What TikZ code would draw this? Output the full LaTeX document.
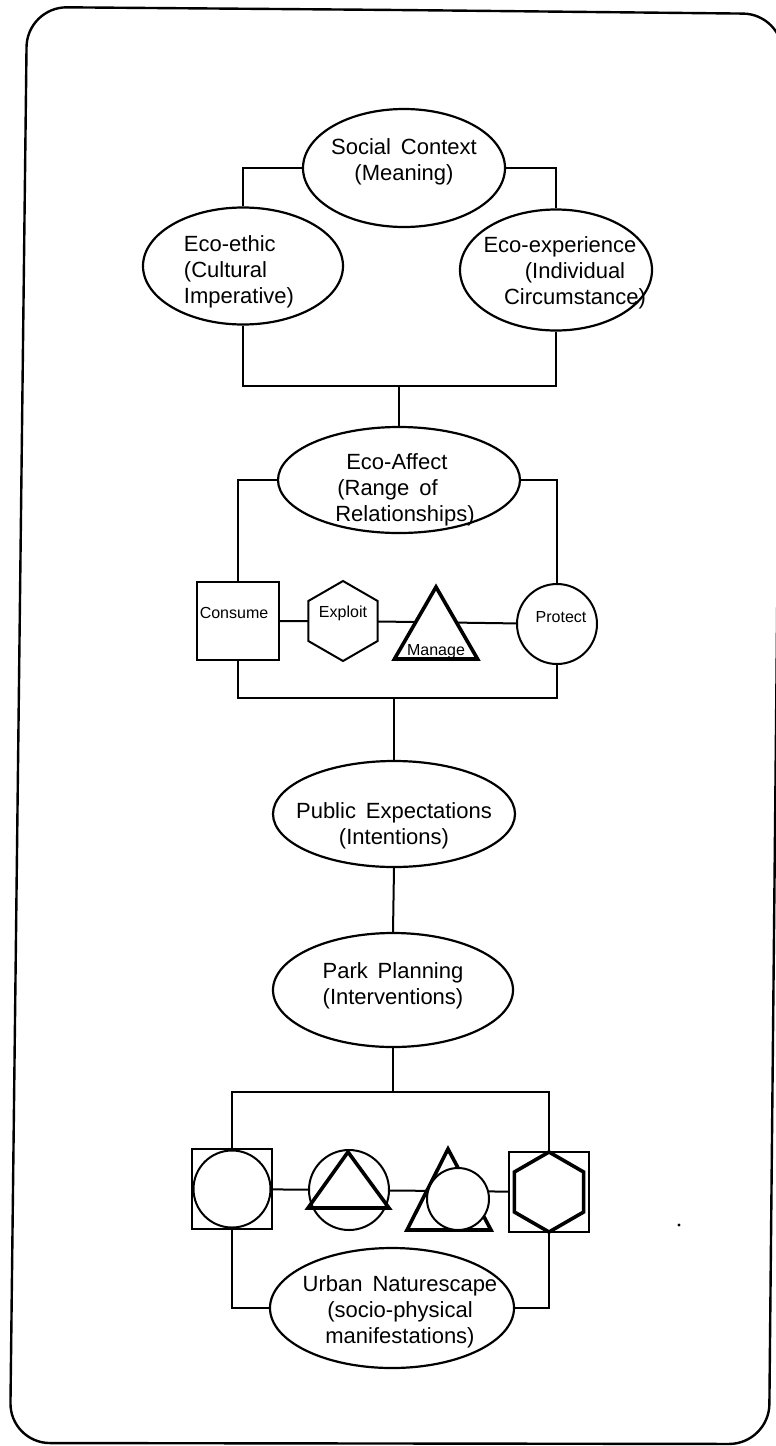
\documentclass[tikz,border=0pt]{standalone}
\usepackage{fontspec}
\setmainfont{Liberation Sans}
\usetikzlibrary{shapes.geometric,backgrounds}

\newcommand\wordgap{\spaceskip 0.45em plus 0.1em\relax}

\tikzset{
  eco/.style={draw, ellipse, line width=2.2pt, fill=white, inner sep=0pt},
  txt/.style={align=center, inner sep=0pt, font=\fontsize{22}{26}\selectfont\wordgap},
  small/.style={inner sep=0pt, font=\fontsize{16}{18}\selectfont},
  link/.style={line width=2pt},
  plain shape/.style={draw, line width=2pt, fill=white, inner sep=0pt},
  bold shape/.style={draw, line width=3.6pt, fill=white, inner sep=0pt},
  hexa/.style={regular polygon, regular polygon sides=6, shape border rotate=90},
}

\begin{document}
\begin{tikzpicture}[x=1pt, y=-1pt]
    \useasboundingbox (0,0) rectangle (776,1446);

    % Rounded frame
    \draw[line width=2.4pt, rounded corners=40pt] (400,10) -- (783,14) -- (769,1444) -- (10,1443) -- (27,7) -- cycle;

    % Context ellipses
    \node[eco, minimum width=202pt, minimum height=118pt,
        label={[txt, yshift=6pt]center:{Social Context\\(Meaning)}}] (social) at (404,168) {};
    \node[eco, minimum width=200pt, minimum height=117pt,
        label={[txt, align=left, xshift=-4pt, yshift=-6pt]center:{Eco-ethic\\(Cultural\\Imperative)}}] (ethic) at (243,266) {};
    \node[eco, minimum width=192pt, minimum height=121pt,
        label={[txt, xshift=19pt, yshift=-3pt]center:{Eco-experience\hspace*{30pt}\\(Individual\\Circumstance)}}] (experience) at (556,270) {};

    % Eco-Affect and its range
    \node[eco, minimum width=242pt, minimum height=106pt,
        label={[txt, align=left, xshift=6pt, yshift=-10pt]center:{\hspace*{11pt}Eco-Affect\\\hspace*{2pt}(Range of\\Relationships)}}] (affect) at (399,480) {};

    \node[plain shape, rectangle, minimum width=82pt, minimum height=78pt,
        label={[small, xshift=-4pt, yshift=8pt]center:Consume}] (consume) at (238,621) {};
    \node[plain shape, hexa, minimum size=80pt,
        label={[small, yshift=8pt]center:Exploit}] (exploit) at (343,621) {};
    \node[bold shape, regular polygon, regular polygon sides=3, minimum size=96pt,
        label={[small, yshift=-17pt]center:Manage}] (manage) at (436,635) {};
    \node[plain shape, circle, minimum size=80pt,
        label={[small, xshift=4pt, yshift=7pt]center:Protect}] (protect) at (557,624) {};

    % Expectations and planning
    \node[eco, minimum width=242pt, minimum height=106pt,
        label={[txt, yshift=-12pt]center:{Public Expectations\\(Intentions)}}] (expect) at (394,814) {};
    \node[eco, minimum width=240pt, minimum height=114pt,
        label={[txt, yshift=4pt]center:{Park Planning\\(Interventions)}}] (planning) at (393,990) {};

    % Naturescape symbols
    \node[plain shape, rectangle, minimum size=80pt] (sqcircle) at (232,1189) {};
    \node[plain shape, circle, minimum size=77pt] (sqcirclein) at (sqcircle) {};

    \node[plain shape, circle, minimum size=80pt] (circtri) at (349,1190) {};
    \draw[line width=3.6pt, line join=miter] ([shift={(-41,18)}]circtri.center) -- ([shift={(-1,-38)}]circtri.center) -- ([shift={(40,18)}]circtri.center) -- cycle;

    \filldraw[line width=3.6pt, fill=white] (407,1230) -- (448,1149) -- (491,1230) -- cycle;
    \node[plain shape, circle, minimum size=62pt] (tricirc) at (458,1199) {};

    \node[plain shape, rectangle, minimum size=80pt] (sqhex) at (549,1192) {};
    \node[bold shape, hexa, minimum size=80pt] (sqhexin) at (sqhex) {};

    \node[eco, minimum width=244pt, minimum height=120pt,
        label={[txt, xshift=8pt, yshift=-4pt]center:{Urban Naturescape\\(socio-physical\\manifestations)}}] (urban) at (392,1308) {};

    % stray dot
    \fill (679,1225) circle[radius=1.6];

    % Connectors
    \begin{scope}[on background layer]
        \draw[link] (social.west) -| (ethic.north);
        \draw[link] (social.east) -| (experience.north);
        \draw[link] (affect.north) -- ++(0,-40) coordinate (jtop);
        \draw[link] (ethic.south) |- (jtop) -| (experience.south);

        \draw[link] (affect.west) -| (consume.north);
        \draw[link] (affect.east) -| (protect.north);
        \draw[link] (consume.center) -- (exploit.center) -- (protect.center);
        \draw[link] (expect.north) -- ++(0,-62) coordinate (jmid);
        \draw[link] (consume.south) |- (jmid) -| (protect.south);

        \draw[link] (expect.south) -- (planning.north);
        \draw[link] (planning.south) -- ++(0,44) coordinate (jlow);
        \draw[link] (sqcircle.north) |- (jlow) -| (sqhex.north);
        \draw[link] (sqcircle.center) -- (sqhex.center);
        \draw[link] (sqcircle.south) |- (urban.west);
        \draw[link] (sqhex.south) |- (urban.east);
    \end{scope}
\end{tikzpicture}
\end{document}
